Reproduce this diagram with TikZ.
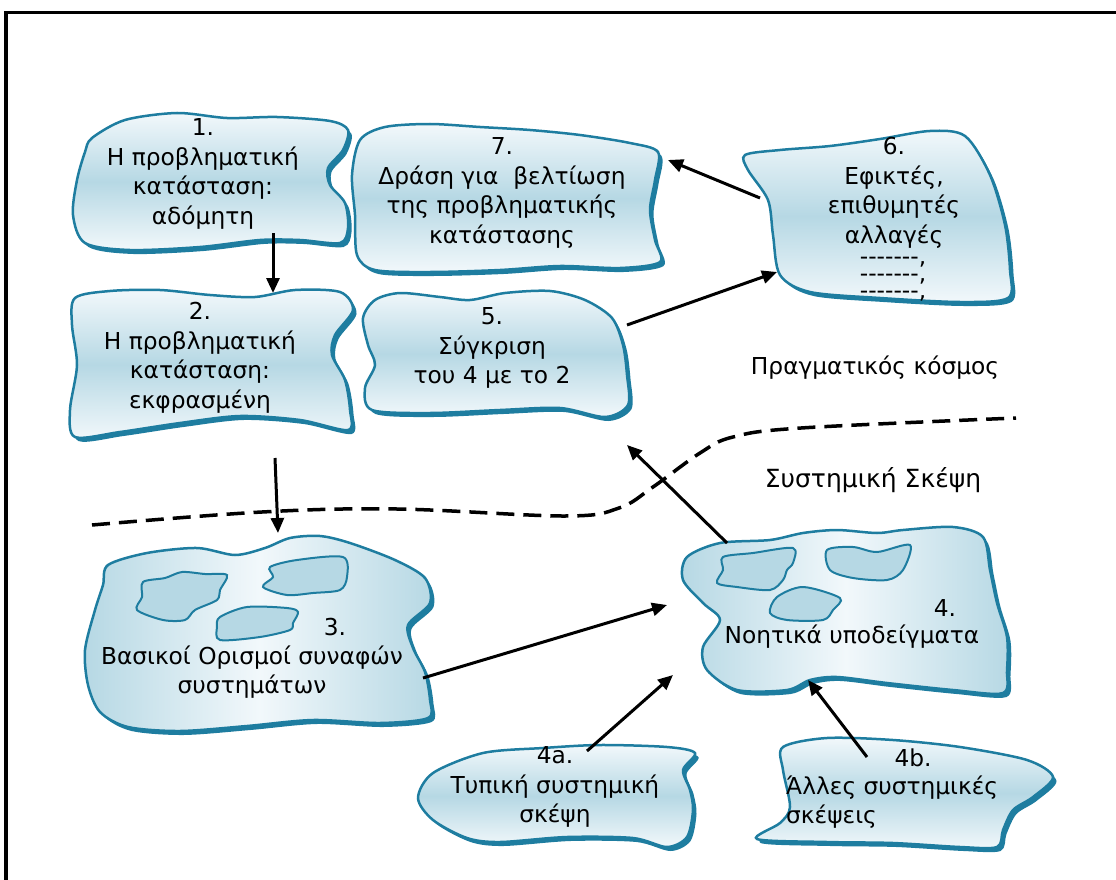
\documentclass[tikz,border=0pt]{standalone}
\usepackage{fontspec}
\setmainfont{DejaVu Sans}
\newfontfamily\hyphfont{DejaVu Sans}[Ligatures=TeXOff]
\usetikzlibrary{arrows.meta}
\definecolor{blobline}{RGB}{30,125,160}
\definecolor{blobmid}{RGB}{182,216,228}
\definecolor{bloblight}{RGB}{242,248,251}
\tikzset{
 blobvert/.style={draw=blobline, line width=2.5pt, top color=bloblight, bottom color=bloblight, middle color=blobmid},
 blobhor/.style={draw=blobline, line width=2.5pt, left color=blobmid, right color=blobmid, middle color=bloblight},
 innerblob/.style={draw=blobline, line width=2pt, fill=blobmid},
 txt/.style={align=center, font=\fontsize{23.3}{29.5}\selectfont, inner sep=0pt},
 dashtxt/.style={font=\hyphfont\fontsize{23.3}{17}\selectfont, inner sep=0pt, text height=5pt, text depth=2pt},
 arr/.style={line width=3pt, -{Triangle[length=15pt,width=13pt]}},
 sepline/.style={line width=3.5pt, dash pattern=on 18pt off 9pt},
}
\newcommand\myblob[2]{%
 \fill[blobline, shift={(3.5,4)}] plot[smooth cycle] coordinates {#2};
 \draw[#1] plot[smooth cycle] coordinates {#2};}
\begin{document}
\begin{tikzpicture}[x=1pt,y=-1pt]
\useasboundingbox (0,0) rectangle (1116,880);
\draw[line width=3.5pt] (6,882) -- (6,12.5) -- (1120,12.5);
% separator
\draw[sepline] plot[smooth, tension=0.6] coordinates {(92,525) (262,512) (397,509) (565,516) (619,508) (653,487) (700,453) (733,437) (801,428) (1016,418)};
% blob 1
\myblob{blobvert}{(92,138) (125,120) (177,113) (227,118) (277,117) (330,121) (348,130) (343,150) (328,168) (330,185) (345,203) (348,228) (340,243) (300,240) (260,240) (200,247) (130,250) (85,243) (73,215) (77,180) (85,152)}
% blob 7
\myblob{blobvert}{(360,140) (385,127) (430,124) (480,127) (530,130) (580,135) (630,143) (658,152) (655,180) (650,210) (655,240) (660,262) (620,268) (560,266) (500,270) (430,272) (375,270) (357,255) (355,215) (352,175)}
% blob 6
\myblob{blobvert}{(745,155) (780,150) (830,146) (880,139) (930,131) (965,136) (990,175) (1005,225) (1010,270) (1008,298) (960,302) (880,298) (810,292) (780,275) (773,235) (768,200) (748,170)}
% blob 2
\myblob{blobvert}{(75,298) (110,291) (160,290) (210,295) (255,297) (295,290) (340,292) (353,310) (335,335) (332,355) (345,380) (350,410) (348,430) (300,420) (240,416) (180,423) (120,432) (75,437) (70,410) (77,365) (72,325)}
% blob 5
\myblob{blobvert}{(375,300) (400,293) (440,297) (470,300) (505,293) (550,291) (585,300) (612,318) (623,345) (627,375) (628,405) (605,417) (560,408) (500,410) (430,413) (372,410) (365,388) (375,365) (368,345) (363,318)}
% blob 3
\myblob{blobhor}{(108,565) (147,553) (197,548) (235,555) (265,548) (290,538) (320,536) (350,543) (395,560) (425,578) (430,603) (408,625) (413,648) (425,672) (430,700) (428,718) (380,723) (313,720) (247,726) (180,731) (128,727) (100,712) (88,685) (85,650) (95,610) (103,585)}
\draw[innerblob] plot[smooth cycle] coordinates {(143,582) (165,578) (182,572) (205,574) (227,575) (220,590) (217,600) (195,610) (185,620) (163,620) (137,610) (142,597)};
\draw[innerblob] plot[smooth cycle] coordinates {(270,567) (297,560) (343,557) (347,577) (340,590) (313,593) (287,595) (263,587) (273,577)};
\draw[innerblob] plot[smooth cycle] coordinates {(220,617) (247,607) (287,608) (298,612) (293,623) (290,630) (260,637) (220,640) (217,627)};
% blob 4
\myblob{blobhor}{(687,557) (720,543) (770,540) (803,533) (837,530) (877,533) (903,530) (953,527) (983,537) (990,570) (997,603) (1007,637) (1007,670) (1003,693) (953,690) (887,683) (837,677) (810,680) (787,690) (737,690) (707,670) (703,647) (720,620) (703,603) (683,580)}
\draw[innerblob] plot[smooth cycle] coordinates {(723,557) (753,553) (793,548) (793,563) (787,570) (783,580) (770,590) (737,587) (717,583) (723,570)};
\draw[innerblob] plot[smooth cycle] coordinates {(827,550) (853,547) (877,552) (910,545) (903,570) (887,580) (853,578) (830,570)};
\draw[innerblob] plot[smooth cycle] coordinates {(777,597) (803,587) (840,598) (833,610) (823,620) (787,620) (770,613)};
% blob 4a
\myblob{blobvert}{(433,773) (483,753) (543,748) (600,745) (667,747) (695,753) (683,770) (690,790) (693,810) (687,837) (667,847) (633,838) (567,837) (500,842) (467,838) (433,820) (418,798)}
% blob 4b
\myblob{blobvert}{(783,747) (827,738) (893,740) (960,747) (1027,760) (1053,777) (1033,797) (1013,810) (1003,830) (997,847) (960,847) (893,843) (827,842) (757,839) (780,823) (790,807) (783,770)}
% texts
\node[txt] (t1) at (203,174) {1.\\Η προβληματική\\κατάσταση:\\αδόμητη};
\node[txt] (t7) at (502,193) {7.\\Δράση για\ \ βελτίωση\\της προβληματικής\\κατάστασης};
\node[txt] (t6) at (894,193) {6.\\Εφικτές,\\επιθυμητές\\αλλαγές};
\node[dashtxt] (t6d1) at (893,263) {-------,};
\node[dashtxt] (t6d2) at (893,280) {-------,};
\node[dashtxt] (t6d3) at (893,297) {-------,};
\node[txt] (t2) at (200,358) {2.\\Η προβληματική\\κατάσταση:\\εκφρασμένη};
\node[txt] (t5) at (492,348) {5.\\Σύγκριση\\του 4 με το 2};
\node[txt] (t3n) at (335,627) {3.};
\node[txt] (t3) at (252,672) {Βασικοί Ορισμοί συναφών\\συστημάτων};
\node[txt] (t4n) at (945,608) {4.};
\node[txt] (t4) at (852,637) {Νοητικά υποδείγματα};
\node[txt] (t4a) at (555,787) {4a.\\Τυπική συστημική\\σκέψη};
\node[txt] (t4bn) at (913,758) {4b.};
\node[txt, align=left, anchor=west] (t4b) at (786,802) {Άλλες συστημικές\\σκέψεις};
\node[txt] (real) at (875,368) {Πραγματικός κόσμος};
\node[txt, font=\fontsize{25}{30}\selectfont] (sys) at (873,480) {Συστημική Σκέψη};
% arrow endpoints
\coordinate (a1s) at (273,233); \coordinate (a1e) at (273,293);
\coordinate (a2s) at (275,458); \coordinate (a2e) at (278,533);
\coordinate (a3s) at (423,678); \coordinate (a3e) at (667,605);
\coordinate (a4as) at (587,751); \coordinate (a4ae) at (673,675);
\coordinate (a4bs) at (867,757); \coordinate (a4be) at (808,680);
\coordinate (a4s) at (727,543); \coordinate (a4e) at (627,445);
\coordinate (a5s) at (627,325); \coordinate (a5e) at (777,272);
\coordinate (a6s) at (760,198); \coordinate (a6e) at (668,160);
\draw[arr] (a1s) -- (a1e);
\draw[arr] (a2s) -- (a2e);
\draw[arr] (a3s) -- (a3e);
\draw[arr] (a4as) -- (a4ae);
\draw[arr] (a4bs) -- (a4be);
\draw[arr] (a4s) -- (a4e);
\draw[arr] (a5s) -- (a5e);
\draw[arr] (a6s) -- (a6e);
\end{tikzpicture}
\end{document}
